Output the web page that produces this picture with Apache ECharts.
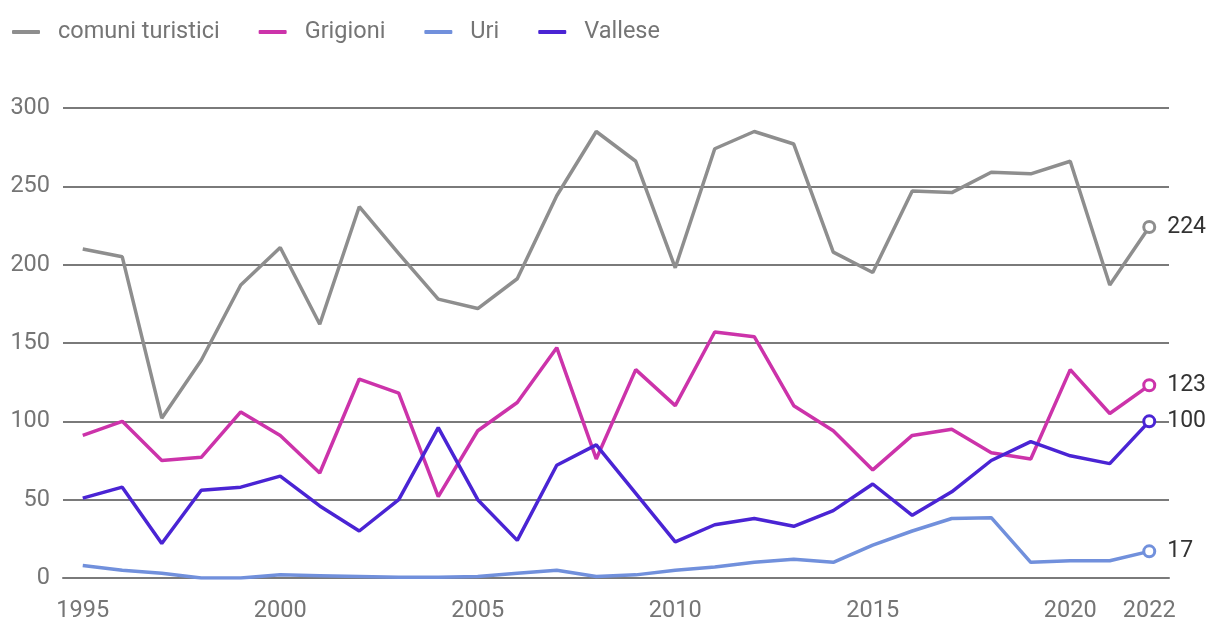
<!DOCTYPE html>
<html>
<head>
<meta charset="utf-8">
<script src="https://cdn.jsdelivr.net/npm/echarts@6/dist/echarts.min.js"></script>
<style>
html,body{margin:0;padding:0;background:#fff;}
#c{width:1220px;height:640px;}
</style>
</head>
<body>
<div id="c"></div>
<script>
const years = ['1995','1996','1997','1998','1999','2000','2001','2002','2003','2004','2005','2006','2007','2008','2009','2010','2011','2012','2013','2014','2015','2016','2017','2018','2019','2020','2021','2022'];
const comuniTuristici = [210,205,102,139,187,211,162,237,207,178,172,191,244,285,266,198,274,285,277,208,195,247,246,259,258,266,187,224];
const grigioni = [91,100,75,77,106,91,67,127,118,52,94,112,147,76,133,110,157,154,110,94,69,91,95,80,76,133,105,123];
const uri = [8,5,3,0,0,2,1.5,1,0.5,0.5,1,3,5,1,2,5,7,10,12,10,21,30,38,38.5,10,11,11,17];
const vallese = [51,58,22,56,58,65,46,30,50,96,50,24,72,85,54,23,34,38,33,43,60,40,55,75,87,78,73,100];
const yTicks = [0,50,100,150,200,250,300];

const seriesDefs = [
  {name:'comuni turistici', data: comuniTuristici, color:'#8e8e8e'},
  {name:'Grigioni', data: grigioni, color:'#cc33aa'},
  {name:'Uri', data: uri, color:'#7190dc'},
  {name:'Vallese', data: vallese, color:'#4a24d4'}
];

const chart = echarts.init(document.getElementById('c'), null, {renderer:'canvas'});
const FONT = 'Roboto';
const last = years.length - 1;

function buildData(arr, color){
  return arr.map((v,i)=>{
    if(i===last){
      return {value:v, symbol:'circle', symbolSize:11,
        itemStyle:{color:'#fff', borderColor:color, borderWidth:3},
        label:{show:true, position:'right', distance:11, formatter:'{c}', color:'#333', fontSize:23, fontFamily:FONT}};
    }
    return {value:v, symbol:'none'};
  });
}

const showTick = (i,v)=> (Number(v)-1995)%5===0 || v==='2022';

chart.setOption({
  animation:false,
  color: seriesDefs.map(s=>s.color),
  legend:{
    top:15, left:7,
    itemWidth:28, itemHeight:4, itemGap:39,
    icon:'roundRect',
    textStyle:{color:'#757575', fontSize:23.5, fontFamily:FONT, padding:[0,0,0,13]},
    data: seriesDefs.map(s=>({name:s.name, itemStyle:{color:s.color}}))
  },
  grid:{left:63, right:51, top:108, bottom:62, containLabel:false},
  xAxis:{
    type:'category',
    data: years,
    boundaryGap:true,
    axisLine:{lineStyle:{color:'#7a7a7a', width:2}},
    axisTick:{alignWithLabel:true, length:9, lineStyle:{color:'#7a7a7a', width:2}, interval:showTick},
    axisLabel:{color:'#757575', fontSize:23.5, fontFamily:FONT, margin:21, interval:showTick}
  },
  yAxis:{
    type:'value', min:yTicks[0], max:yTicks[yTicks.length-1], interval:50,
    axisLine:{show:false}, axisTick:{show:false},
    axisLabel:{color:'#757575', fontSize:23.5, fontFamily:FONT, margin:13},
    splitLine:{lineStyle:{color:'#7a7a7a', width:2}}
  },
  series: seriesDefs.map(s=>({
    name:s.name, type:'line', data: buildData(s.data, s.color),
    showAllSymbol:true,
    lineStyle:{width:3.5, color:s.color},
    itemStyle:{color:s.color},
    emphasis:{disabled:true},
    z: 3
  }))
});
</script>
</body>
</html>
